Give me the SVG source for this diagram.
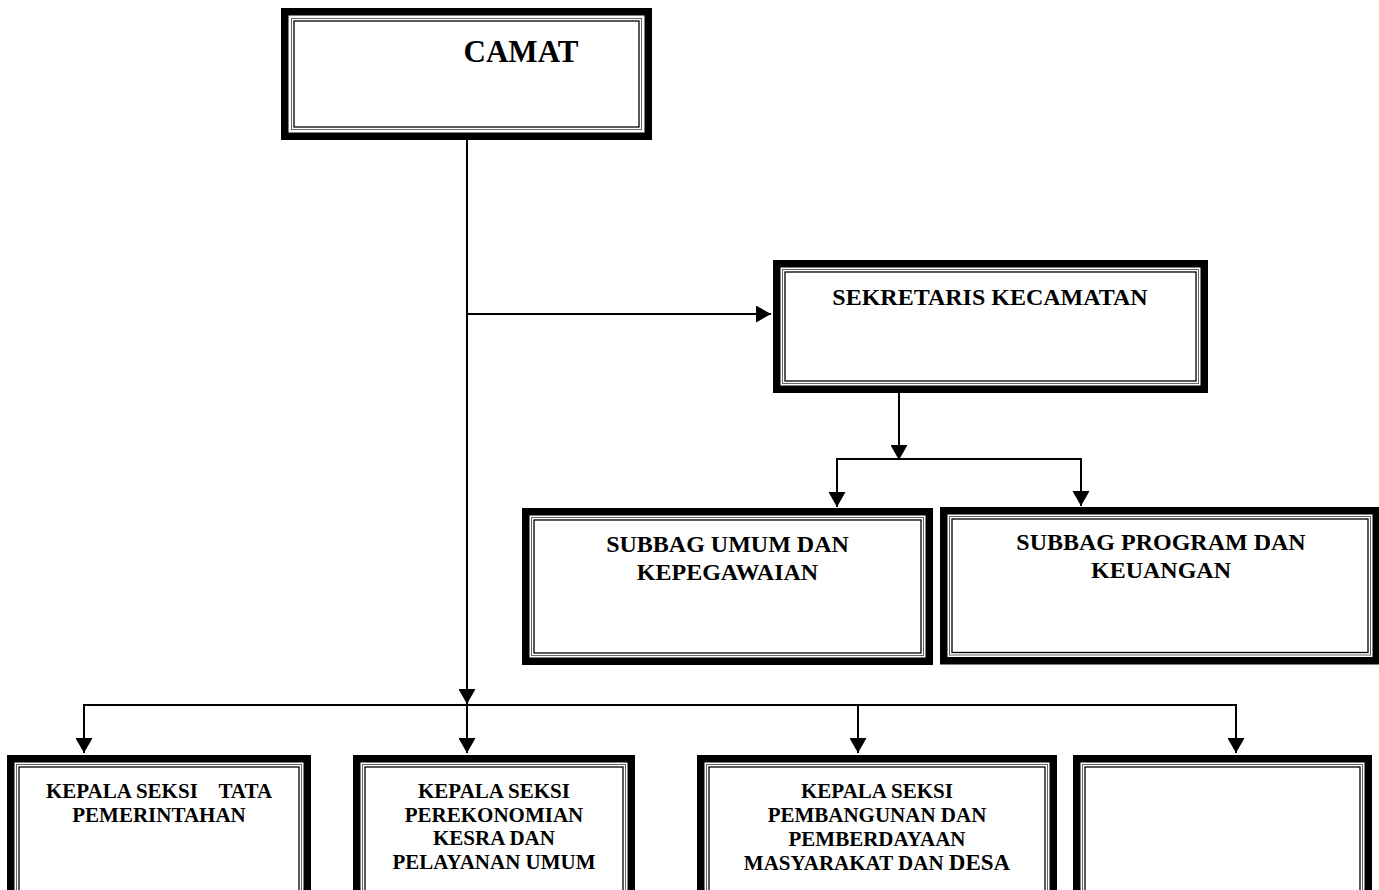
<svg xmlns="http://www.w3.org/2000/svg" width="1379" height="890" viewBox="0 0 1379 890">
<defs>
<style>
.thick{fill:none;stroke:#000;stroke-width:7.5}
.thin1{fill:none;stroke:#666;stroke-width:1}
.thin2{fill:none;stroke:#000;stroke-width:1.3}
.t{font-family:"Liberation Serif","Times New Roman",serif;font-weight:bold;fill:#000;text-anchor:middle}
.c{fill:none;stroke:#000;stroke-width:2}
</style>
<marker id="ah" markerUnits="userSpaceOnUse" markerWidth="15" markerHeight="17" refX="15" refY="8.5" orient="auto" viewBox="0 0 15 17">
<path d="M0,0 L15,8.5 L0,17 z" fill="#000"/>
</marker>
</defs>
<rect width="1379" height="890" fill="#fff"/>

<g id="connectors">
<line class="c" x1="467" y1="140" x2="467" y2="704" marker-end="url(#ah)"/>
<line class="c" x1="467" y1="314" x2="771" y2="314" marker-end="url(#ah)"/>
<line class="c" x1="899" y1="393" x2="899" y2="460" marker-end="url(#ah)"/>
<polyline class="c" points="837,506 837,459 1081,459 1081,506"/>
<line class="c" x1="837" y1="459" x2="837" y2="507" marker-end="url(#ah)"/>
<line class="c" x1="1081" y1="459" x2="1081" y2="506" marker-end="url(#ah)"/>
<line class="c" x1="83" y1="705" x2="1237" y2="705"/>
<line class="c" x1="84" y1="705" x2="84" y2="753" marker-end="url(#ah)"/>
<line class="c" x1="467" y1="705" x2="467" y2="753" marker-end="url(#ah)"/>
<line class="c" x1="858" y1="705" x2="858" y2="753" marker-end="url(#ah)"/>
<line class="c" x1="1236" y1="705" x2="1236" y2="753" marker-end="url(#ah)"/>
</g>

<g id="camat">
<rect class="thick" x="284.75" y="11.75" width="363.5" height="124.5"/>
<rect class="thin1" x="291.5" y="18.5" width="350" height="111"/>
<rect class="thin2" x="294" y="21" width="345" height="106"/>
<text class="t" x="521" y="62" font-size="31">CAMAT</text>
</g>

<g id="sekretaris">
<rect class="thick" x="776.75" y="263.75" width="427.5" height="125.5"/>
<rect class="thin1" x="782.5" y="269.5" width="416" height="114"/>
<rect class="thin2" x="785" y="272" width="411" height="109"/>
<text class="t" x="990" y="305" font-size="24">SEKRETARIS KECAMATAN</text>
</g>

<g id="subbag-umum">
<rect class="thick" x="525.75" y="511.75" width="403.5" height="149.5"/>
<rect class="thin1" x="531.5" y="517.5" width="392" height="138"/>
<rect class="thin2" x="534" y="520" width="387" height="133"/>
<text class="t" font-size="24"><tspan x="727.5" y="552">SUBBAG UMUM DAN</tspan><tspan x="727.5" y="580">KEPEGAWAIAN</tspan></text>
</g>

<g id="subbag-program">
<rect class="thick" x="943.75" y="510.75" width="432.5" height="150"/>
<rect class="thin1" x="949.5" y="516.5" width="421" height="138.5"/>
<rect class="thin2" x="952" y="519" width="416" height="133.5"/>
<text class="t" font-size="24"><tspan x="1161" y="550">SUBBAG PROGRAM DAN</tspan><tspan x="1161" y="578">KEUANGAN</tspan></text>
</g>

<g id="seksi-tata">
<rect class="thick" x="10.75" y="758.75" width="296.5" height="150"/>
<rect class="thin1" x="16.5" y="764.5" width="285" height="140"/>
<rect class="thin2" x="19" y="767" width="280" height="135"/>
<text class="t" font-size="21" style="white-space:pre"><tspan x="159" y="798">KEPALA SEKSI    TATA</tspan><tspan x="159" y="822">PEMERINTAHAN</tspan></text>
</g>

<g id="seksi-perekonomian">
<rect class="thick" x="356.75" y="758.75" width="274.5" height="150"/>
<rect class="thin1" x="362.5" y="764.5" width="263" height="140"/>
<rect class="thin2" x="365" y="767" width="258" height="135"/>
<text class="t" font-size="21"><tspan x="494" y="798">KEPALA SEKSI</tspan><tspan x="494" y="821.5">PEREKONOMIAN</tspan><tspan x="494" y="845">KESRA DAN</tspan><tspan x="494" y="869">PELAYANAN UMUM</tspan></text>
</g>

<g id="seksi-pembangunan">
<rect class="thick" x="700.75" y="758.75" width="352.5" height="150"/>
<rect class="thin1" x="706.5" y="764.5" width="341" height="140"/>
<rect class="thin2" x="709" y="767" width="336" height="135"/>
<text class="t" font-size="21"><tspan x="877" y="798">KEPALA SEKSI</tspan><tspan x="877" y="822">PEMBANGUNAN DAN</tspan><tspan x="877" y="846">PEMBERDAYAAN</tspan><tspan x="877" y="870">MASYARAKAT DAN <tspan font-size="23">DESA</tspan></tspan></text>
</g>

<g id="seksi-empty">
<rect class="thick" x="1076.75" y="758.75" width="291.5" height="150"/>
<rect class="thin1" x="1082.5" y="764.5" width="280" height="140"/>
<rect class="thin2" x="1085" y="767" width="275" height="135"/>
</g>
</svg>
